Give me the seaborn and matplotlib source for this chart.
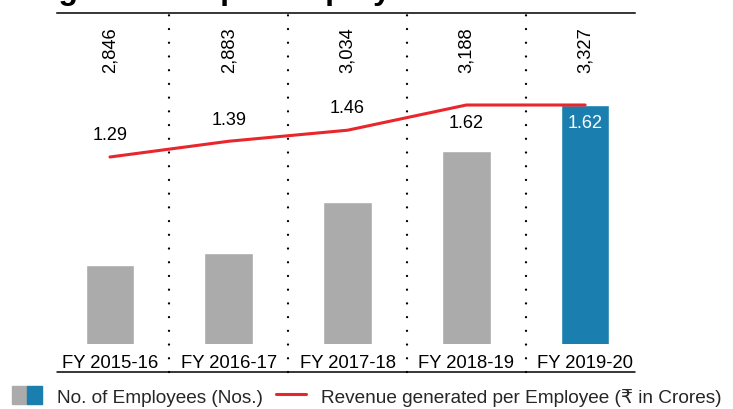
import numpy as np
import pandas as pd
import seaborn as sns
import matplotlib
matplotlib.use("Agg")
import matplotlib.pyplot as plt
from matplotlib.patches import Patch
from matplotlib.lines import Line2D
from matplotlib.legend_handler import HandlerTuple
import matplotlib.transforms as mtransforms

# ---- data ----
categories = ["FY 2015-16", "FY 2016-17", "FY 2017-18", "FY 2018-19", "FY 2019-20"]
employees = [2846, 2883, 3034, 3188, 3327]
employee_labels = ["2,846", "2,883", "3,034", "3,188", "3,327"]
revenue_per_employee = [1.29, 1.39, 1.46, 1.62, 1.62]
revenue_labels = ["1.29", "1.39", "1.46", "1.62", "1.62"]
legend_labels = ["No. of Employees (Nos.)", "Revenue generated per Employee (\u20b9 in Crores)"]
title_text = "Revenue generated per employee"

GRAY = "#ababab"
BLUE = "#1a7fae"
RED = "#e8262b"

sns.set_theme(style="white")
plt.rcParams["font.family"] = ["Liberation Sans", "DejaVu Sans"]

W, H = 733, 410
fig = plt.figure(figsize=(W / 100, H / 100), dpi=100)
ax = fig.add_axes([57 / W, 65 / H, 578 / W, 331 / H])

df = pd.DataFrame({"year": categories, "employees": employees})
colors = [GRAY] * (len(categories) - 1) + [BLUE]
sns.barplot(data=df, x="year", y="employees", hue="year", palette=colors,
            legend=False, width=0.41, saturation=1, ax=ax)
ax.set_ylim(2608.5, 3603.6)
ax.set_xlim(-0.446, 4.42)

trans = mtransforms.blended_transform_factory(ax.transData, ax.transAxes)
for i, lab in enumerate(employee_labels):
    ax.text(i, 0.891, lab, rotation=90, ha="center", va="center",
            fontsize=13.2, color="black", transform=trans)

# separators
ybot = -(373 - 345) / 331
for k in range(len(categories) - 1):
    ax.axvline(k + 0.5, ymin=ybot, ymax=1, clip_on=False, color="black",
               linestyle=(0, (0.01, 5.8)), lw=1.7, dash_capstyle="round")
ax.plot([0, 1], [ybot, ybot], transform=ax.transAxes, clip_on=False,
        color="black", lw=1.1)

for s in ["left", "right", "bottom"]:
    ax.spines[s].set_visible(False)
ax.spines["top"].set_color("black")
ax.spines["top"].set_linewidth(1.1)
ax.set_yticks([])
ax.set_xlabel("")
ax.set_ylabel("")
ax.tick_params(axis="x", length=0, pad=7.5, labelsize=13.3, colors="black")

# line on twin axis
ax2 = ax.twinx()
pos = np.arange(len(categories))
sns.lineplot(x=pos, y=revenue_per_employee, ax=ax2, color=RED, lw=2.2)
ax2.set_ylim(0.103, 2.204)
ax2.set_yticks([])
ax2.set_ylabel("")
for s in ["left", "right", "bottom", "top"]:
    ax2.spines[s].set_visible(False)

for i, (v, lab) in enumerate(zip(revenue_per_employee, revenue_labels)):
    above = i < 3
    ax2.annotate(lab, (i, v), xytext=(0, 16 if above else -12.5),
                 textcoords="offset points", ha="center", va="center",
                 fontsize=13, color="white" if i == len(categories) - 1 else "black")

# clipped title at top (cut off by the figure edge, as in the reference)
fig.text(427 / W, 1 + 1.5 / H, title_text, ha="right", va="baseline",
         fontsize=23, fontweight="bold", color="black")

handles = [(Patch(color=GRAY), Patch(color=BLUE)), Line2D([], [], color=RED, lw=2.2)]
fig.legend(handles, legend_labels, loc="center left",
           bbox_to_anchor=(12 / W, 1 - 397 / H), ncol=2, frameon=False,
           fontsize=13.7, handlelength=1.58, handleheight=1.05, handletextpad=0.78,
           columnspacing=0.7, borderpad=0, borderaxespad=0,
           handler_map={tuple: HandlerTuple(ndivide=None, pad=0)})

fig.savefig("out.png", dpi=100)
